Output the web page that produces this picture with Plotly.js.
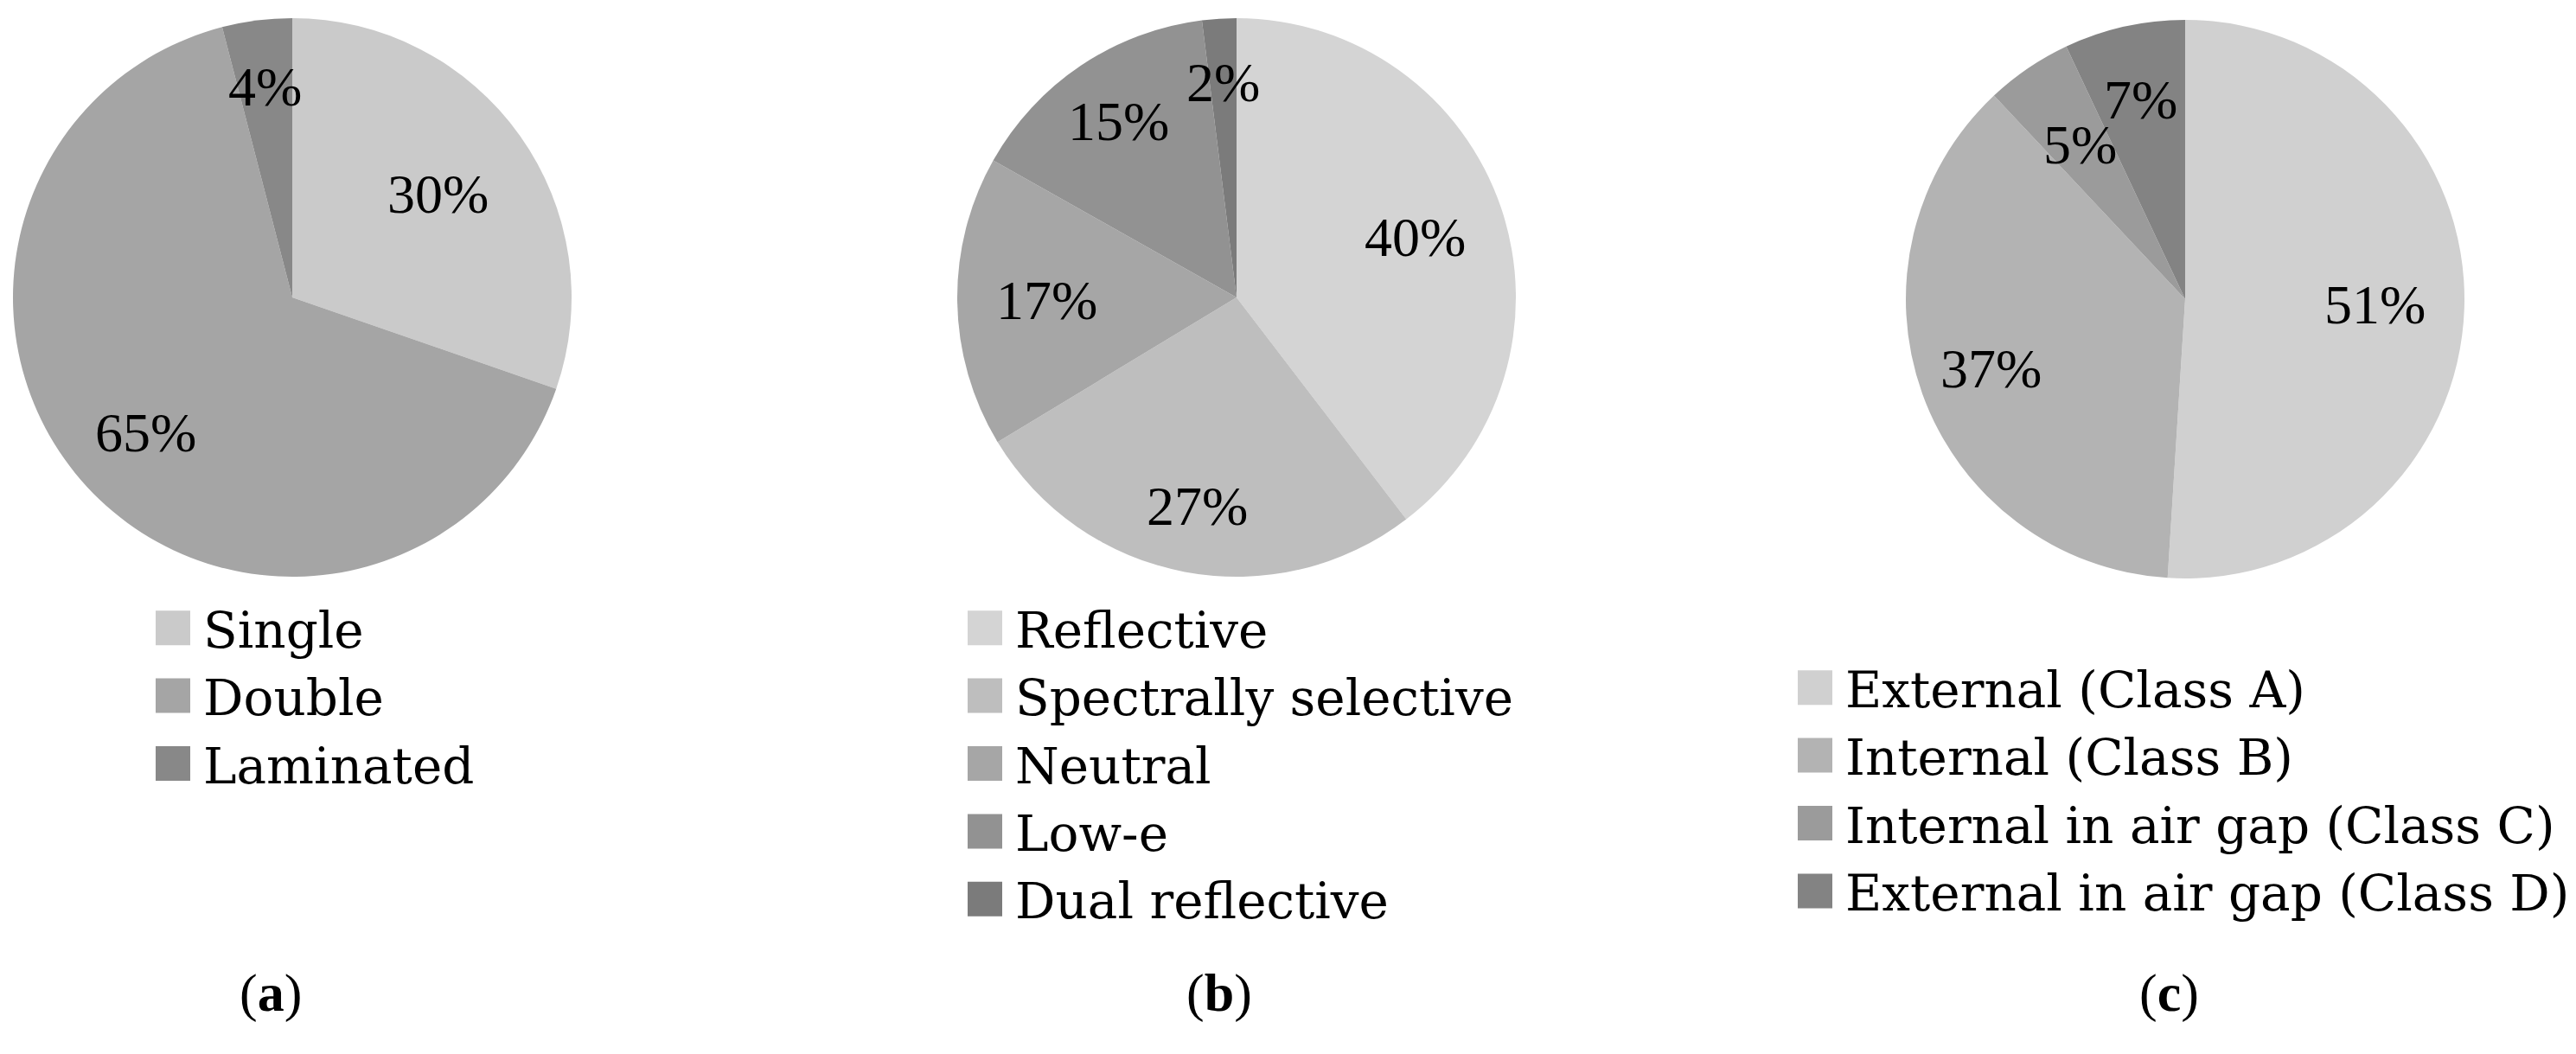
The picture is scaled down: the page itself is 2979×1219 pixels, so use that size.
<!DOCTYPE html>
<html>
<head>
<meta charset="utf-8">
<script src="https://cdn.plot.ly/plotly-3.0.1.min.js"></script>
<style>
  html, body { margin: 0; padding: 0; background: #ffffff; }
  #chart { width: 2979px; height: 1219px; }
</style>
</head>
<body>
<div id="chart"></div>
<script>
// ---- Data ----
const glazingLabels = ['Single', 'Double', 'Laminated'];
const glazingValues = [30, 65, 4];

const coatingLabels = ['Reflective', 'Spectrally selective', 'Neutral', 'Low-e', 'Dual reflective'];
const coatingValues = [40, 27, 17, 15, 2];

const shadingLabels = ['External (Class A)', 'Internal (Class B)', 'Internal in air gap (Class C)', 'External in air gap (Class D)'];
const shadingValues = [51, 37, 5, 7];

const panelCaptions = ['a', 'b', 'c'];

// ---- Styling / layout ----
const W = 2979, H = 1219;
const R = 323;
const FONT = '"Liberation Serif", "Times New Roman", serif';
const LEGEND_FONT = '"DejaVu Serif", "Liberation Serif", serif';

const glazingColors = ['#cacaca', '#a5a5a5', '#888888'];
const coatingColors = ['#d4d4d4', '#bebebe', '#a6a6a6', '#929292', '#7b7b7b'];
const shadingColors = ['#d0d0d0', '#b3b3b3', '#9b9b9b', '#838383'];

const panels = [
  { labels: glazingLabels, values: glazingValues, colors: glazingColors, cx: 338, cy: 344,
    labelR: [0.64, 0.715, 0.76], legend: 'legend', legendX: 165, legendY: 682, legendFont: 58,
    capX: 313 },
  { labels: coatingLabels, values: coatingValues, colors: coatingColors, cx: 1430, cy: 344,
    labelR: [0.675, 0.76, 0.68, 0.76, 0.77], legend: 'legend2', legendX: 1104, legendY: 682, legendFont: 58,
    capX: 1410 },
  { labels: shadingLabels, values: shadingValues, colors: shadingColors, cx: 2527, cy: 346,
    labelR: [0.68, 0.74, 0.67, 0.73], legend: 'legend3', legendX: 2064, legendY: 751, legendFont: 58,
    capX: 2508 }
];

const traces = [];
const annotations = [];
const layout = {
  width: W, height: H,
  margin: { l: 0, r: 0, t: 0, b: 0, pad: 0, autoexpand: false },
  paper_bgcolor: '#ffffff',
  plot_bgcolor: '#ffffff',
  font: { family: FONT, color: '#000000', size: 64 },
  showlegend: true,
  annotations: annotations
};

panels.forEach((p, i) => {
  traces.push({
    type: 'pie',
    labels: p.labels,
    values: p.values,
    sort: false,
    direction: 'clockwise',
    rotation: 0,
    textinfo: 'none',
    hoverinfo: 'label+value',
    marker: { colors: p.colors, line: { width: 0 } },
    domain: {
      x: [(p.cx - R) / W, (p.cx + R) / W],
      y: [1 - (p.cy + R) / H, 1 - (p.cy - R) / H]
    },
    legend: p.legend,
    showlegend: true
  });

  // percentage labels placed along each slice's bisector
  const total = p.values.reduce((a, b) => a + b, 0);
  let cum = 0;
  p.values.forEach((v, k) => {
    const theta = 2 * Math.PI * (cum + v / 2) / total;
    cum += v;
    const r = p.labelR[k] * R;
    const px = p.cx + r * Math.sin(theta);
    const py = p.cy - r * Math.cos(theta);
    annotations.push({
      xref: 'paper', yref: 'paper',
      x: px / W, y: 1 - py / H,
      xanchor: 'center', yanchor: 'middle',
      showarrow: false,
      text: v + '%',
      font: { family: FONT, size: 64, color: '#000000' }
    });
  });

  layout[p.legend] = {
    x: p.legendX / W, y: 1 - p.legendY / H,
    xanchor: 'left', yanchor: 'top',
    bgcolor: 'rgba(0,0,0,0)',
    borderwidth: 0,
    itemwidth: 60,
    traceorder: 'normal',
    font: { family: LEGEND_FONT, size: p.legendFont, color: '#000000' }
  };

  annotations.push({
    xref: 'paper', yref: 'paper',
    x: p.capX / W, y: 1 - 1148 / H,
    xanchor: 'center', yanchor: 'middle',
    showarrow: false,
    text: '(<b>' + panelCaptions[i] + '</b>)',
    font: { family: FONT, size: 62, color: '#000000' }
  });
});

Plotly.newPlot('chart', traces, layout, { staticPlot: true, displayModeBar: false }).then(gd => {
  // enlarge the legend swatches to match the square markers of the original
  gd.querySelectorAll('.legendpoints path').forEach(path => {
    path.setAttribute('d', 'M20,20H-20V-20H20Z');
  });
});
</script>
</body>
</html>
